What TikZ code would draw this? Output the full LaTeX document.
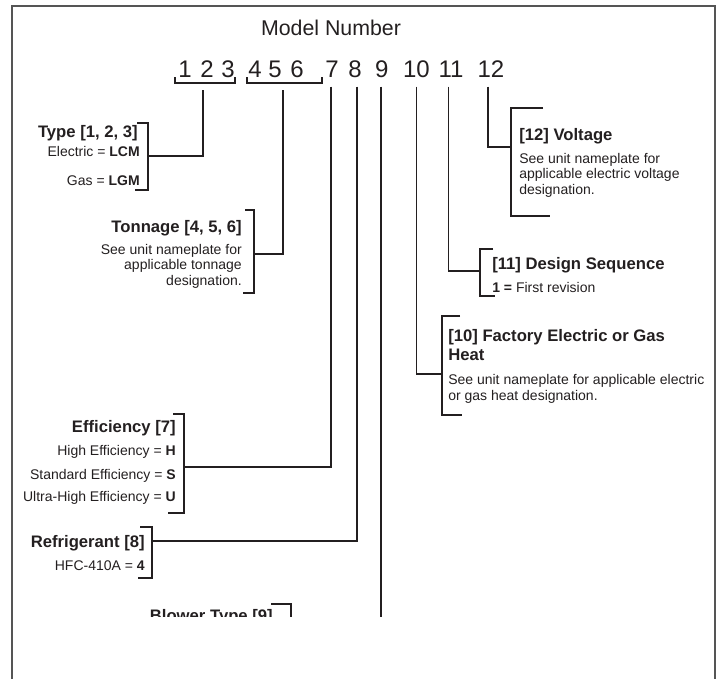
\documentclass[tikz,border=0pt]{standalone}
\usepackage{fontspec}
\setmainfont{Liberation Sans}
\usetikzlibrary{positioning}
\definecolor{inkDark}{HTML}{231F20}
\definecolor{frameGray}{HTML}{555555}

\begin{document}
\begin{tikzpicture}[
  x=0.75pt,y=-0.75pt,
  every node/.style={inner sep=0pt,text=inkDark},
  ttl/.style={font=\fontsize{16}{16}\selectfont},
  digit/.style={font=\fontsize{18}{18}\selectfont},
  head/.style={font=\bfseries\fontsize{12.5}{13.75}\selectfont},
  body/.style={font=\fontsize{10.5}{11.6}\selectfont},
  lead/.style={draw=inkDark,line width=0.9pt},
  frm/.style={draw=frameGray,line width=1.1pt}
]
  \useasboundingbox (0,0) rectangle (719,679);

  % --- frame ---
  \draw[frm] (12,679) |- (715,6) -- (715,679);

  % --- model number ---
  \node[ttl,anchor=base] (title) at (331,35) {Model Number};
  \node[digit] (d1) at (185,69) {1};
  \node[digit] (d2) at (207,69) {2};
  \node[digit] (d3) at (228,69) {3};
  \node[digit] (d4) at (255,69) {4};
  \node[digit] (d5) at (275,69) {5};
  \node[digit] (d6) at (297,69) {6};
  \node[digit] (d7) at (332,69) {7};
  \node[digit] (d8) at (355,69) {8};
  \node[digit] (d9) at (381.7,69) {9};
  \node[digit] (d10) at (416.5,69) {10};
  \node[digit] (d11) at (451,69) {11};
  \node[digit] (d12) at (491,69) {12};

  % group brackets
  \draw[lead] (175,77) |- (235,83) -- (235,77);
  \draw[lead] (247,77) |- (322,83) -- (322,77);

  % stem tops
  \coordinate (g1) at (203,90);
  \coordinate (g2) at (283,90);
  \coordinate (t7) at (331,86.7);
  \coordinate (t8) at (357,86.7);
  \coordinate (t9) at (381,86.7);
  \coordinate (t10) at (416.7,86.7);
  \coordinate (t11) at (448.5,86.7);
  \coordinate (t12) at (488,86.7);

  % --- type ---
  \node[head,anchor=base east] (type) at (138,137.5) {Type [1, 2, 3]};
  \node[body,anchor=base east] (elec) at (140,156.7) {Electric = \textbf{LCM}};
  \node[body,anchor=base east] (gas) at (140,185) {Gas = \textbf{LGM}};
  \draw[lead] (137,123) -| (148,190) -- (135,190);
  \coordinate (typej) at (148,156);
  \draw[lead] (g1) |- (typej);

  % --- tonnage ---
  \node[head,anchor=base east] (ton) at (242,232.7) {Tonnage [4, 5, 6]};
  \node[body,anchor=base east,align=right] (tonb) at (242,285)
    {See unit nameplate for\\applicable tonnage\\designation.};
  \draw[lead] (245,210) -| (254,293) -- (243,293);
  \coordinate (tonj) at (254,254);
  \draw[lead] (g2) |- (tonj);

  % --- efficiency ---
  \node[head,anchor=base east] (eff) at (176,432) {Efficiency [7]};
  \node[body,anchor=base east] (effh) at (176,455.7) {High Efficiency = \textbf{H}};
  \node[body,anchor=base east] (effs) at (176,479) {Standard Efficiency = \textbf{S}};
  \node[body,anchor=base east] (effu) at (176,501.7) {Ultra-High Efficiency = \textbf{U}};
  \draw[lead] (173,414) -| (184,513) -- (168,513);
  \coordinate (effj) at (184,467);
  \draw[lead] (t7) |- (effj);

  % --- refrigerant ---
  \node[head,anchor=base east] (refr) at (145,547) {Refrigerant [8]};
  \node[body,anchor=base east] (refrv) at (145,570) {HFC-410A = \textbf{4}};
  \draw[lead] (140,527) -| (152,578) -- (138,578);
  \coordinate (refrj) at (152,541);
  \draw[lead] (t8) |- (refrj);

  % --- blower (cut off) ---
  \coordinate (cut9) at (381,616.5);
  \draw[lead] (t9) -- (cut9);
  \begin{scope}
    \clip (0,0) rectangle (719,616.5);
    \node[head,anchor=base east] (blow) at (273,621) {Blower Type [9]};
    \draw[lead] (271,604) -| (291,640);
  \end{scope}

  % --- voltage ---
  \node[head,anchor=base west] (volt) at (519,140) {[12] Voltage};
  \node[body,anchor=base west,align=left] (voltb) at (519,194)
    {See unit nameplate for\\applicable electric voltage\\designation.};
  \draw[lead] (543,108) -| (511,216) -- (550,216);
  \coordinate (voltj) at (511,147);
  \draw[lead] (t12) |- (voltj);

  % --- design sequence ---
  \node[head,anchor=base west] (dseq) at (492,269) {[11] Design Sequence};
  \node[body,anchor=base west] (dseqv) at (492,292.7) {\textbf{1 =} First revision};
  \draw[lead] (493,249) -| (480,296) -- (495,296);
  \coordinate (dseqj) at (480,271);
  \draw[lead] (t11) |- (dseqj);

  % --- factory heat ---
  \node[head,anchor=base west,align=left] (fheat) at (448,360)
    {[10] Factory Electric or Gas\\Heat};
  \node[body,anchor=base west,align=left] (fheatb) at (448,400)
    {See unit nameplate for applicable electric\\or gas heat designation.};
  \draw[lead] (460,316) -| (442,415) -- (462,415);
  \coordinate (fheatj) at (442,374);
  \draw[lead] (t10) |- (fheatj);

\end{tikzpicture}
\end{document}
